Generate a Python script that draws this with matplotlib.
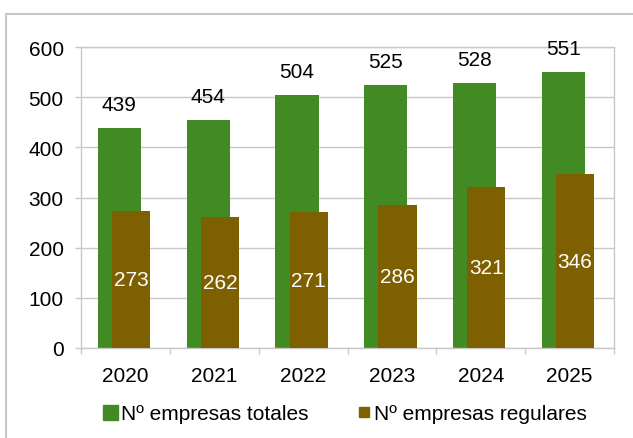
import numpy as np
import matplotlib
matplotlib.use("Agg")
from matplotlib import pyplot as plt
from matplotlib.patches import Rectangle
from matplotlib.lines import Line2D

# chart data
years = ["2020", "2021", "2022", "2023", "2024", "2025"]
totales = [439, 454, 504, 525, 528, 551]
regulares = [273, 262, 271, 286, 321, 346]

green = "#428A24"
brown = "#7F6000"
grey = "#C8C8C8"

plt.rcParams["font.family"] = ["Liberation Sans", "DejaVu Sans"]
plt.rcParams["font.size"] = 15

fig = plt.figure(figsize=(6.33, 4.39), dpi=100)
ax = fig.add_axes([81 / 633, 1 - 349 / 439, 533 / 633, 301 / 439])

x = np.arange(len(years))
b1 = ax.bar(x - 0.069, totales, width=0.486, color=green, zorder=2)
b2 = ax.bar(x + 0.063, regulares, width=0.43, color=brown, zorder=3)

for rect, v in zip(b1, totales):
    ax.annotate(str(v), (rect.get_x() + rect.get_width() / 2, v),
                xytext=(0, 10), textcoords="offset points",
                ha="center", va="bottom", fontsize=15, color="black")
for rect, v in zip(b2, regulares):
    ax.text(rect.get_x() + rect.get_width() / 2, v / 2, str(v),
            ha="center", va="center", fontsize=15, color="white", zorder=4)

ax.set_xlim(-0.5, len(years) - 0.5)
ax.set_ylim(0, 600)
ax.set_yticks([0, 100, 200, 300, 400, 500, 600])
ax.set_xticks(x)
ax.set_xticklabels(years)
ax.set_xticks(np.arange(len(years) + 1) - 0.5, minor=True)
ax.tick_params(axis="x", which="major", length=0, pad=13)
ax.tick_params(axis="x", which="minor", length=4.5, color=grey, width=1)
ax.tick_params(axis="y", length=4.5, color=grey, width=1, pad=8)
ax.yaxis.grid(True, color=grey, linewidth=1, zorder=0)
ax.set_axisbelow(True)
for s in ax.spines.values():
    s.set_color(grey)
    s.set_linewidth(1)

handles = [
    Line2D([], [], marker="s", linestyle="none", markersize=10.8,
           markerfacecolor=green, markeredgecolor=green),
    Line2D([], [], marker="s", linestyle="none", markersize=7.9,
           markerfacecolor=brown, markeredgecolor=brown),
]
fig.legend(handles, ["Nº empresas totales", "Nº empresas regulares"],
           loc="center", bbox_to_anchor=(345 / 633, 1 - 415 / 439),
           ncol=2, frameon=False, fontsize=15, handlelength=0.7,
           handletextpad=0.15, columnspacing=2.3)

# light grey chart frame
fig.patches.append(Rectangle((6 / 633, -0.05), 1.1, 1 - 15 / 439 + 0.05,
                             transform=fig.transFigure, fill=False,
                             edgecolor=grey, linewidth=1.5))

fig.savefig("out.png", dpi=100)
